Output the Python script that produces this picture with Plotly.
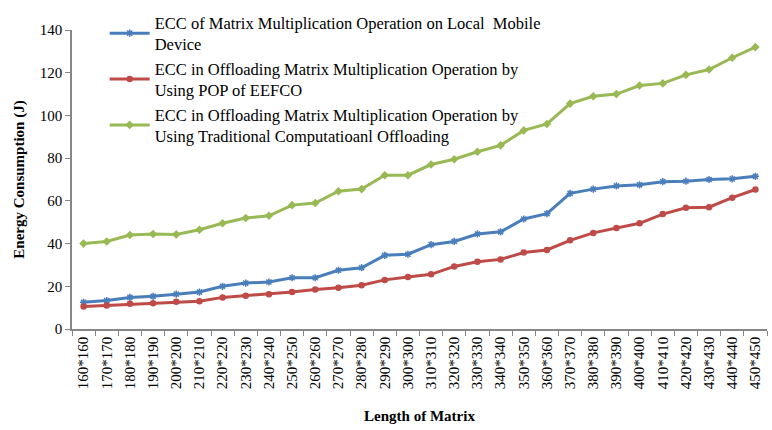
import plotly.graph_objects as go

# matrix sizes on the x axis
sizes = [f"{n}*{n}" for n in range(160, 460, 10)]

local_device = [12.5, 13.3, 14.8, 15.3, 16.3, 17.3, 20.0, 21.5, 22.0, 24.0,
                24.0, 27.5, 28.7, 34.5, 35.0, 39.5, 41.0, 44.5, 45.5, 51.5,
                54.0, 63.5, 65.5, 67.0, 67.5, 69.0, 69.2, 70.0, 70.3, 71.5]
pop_eefco = [10.5, 11.0, 11.8, 12.0, 12.8, 13.0, 14.8, 15.6, 16.3, 17.3,
             18.5, 19.3, 20.5, 23.0, 24.3, 25.6, 29.3, 31.5, 32.6, 35.8,
             37.0, 41.5, 45.0, 47.3, 49.5, 53.8, 56.8, 57.0, 61.5, 65.3]
traditional = [40.0, 41.0, 44.0, 44.5, 44.3, 46.5, 49.5, 52.0, 53.0, 58.0,
               59.0, 64.5, 65.5, 72.0, 72.0, 77.0, 79.5, 83.0, 86.0, 93.0,
               96.0, 105.5, 109.0, 110.0, 114.0, 115.0, 119.0, 121.5, 127.0, 132.0]

series = [
    ("ECC of Matrix Multiplication Operation on Local &nbsp;Mobile<br>Device",
     local_device, "#4A7EBB", "asterisk-open", 6),
    ("ECC in Offloading Matrix Multiplication Operation by<br>Using POP of EEFCO",
     pop_eefco, "#BE4B48", "circle", 5),
    ("ECC in Offloading Matrix Multiplication Operation by<br>Using Traditional Computatioanl Offloading",
     traditional, "#98B954", "diamond", 5),
]

fig = go.Figure()
for name, values, color, symbol, msize in series:
    fig.add_trace(go.Scatter(
        x=sizes,
        y=values,
        name=name,
        mode="lines+markers",
        line=dict(color=color, width=3),
        marker=dict(color=color, size=msize, symbol=symbol,
                    line=dict(color=color, width=1.5)),
    ))

font = "Liberation Serif, Times New Roman, serif"
fig.update_layout(
    width=772,
    height=430,
    margin=dict(l=72, r=5, t=14, b=101),
    paper_bgcolor="white",
    plot_bgcolor="white",
    font=dict(family=font, size=15, color="black"),
    legend=dict(
        x=0.047, y=1.083, xanchor="left", yanchor="top",
        bgcolor="rgba(0,0,0,0)",
        font=dict(family=font, size=16.5),
        tracegroupgap=0,
        itemwidth=40,
    ),
    xaxis=dict(
        type="category",
        range=[-0.5, 29.5],
        automargin=False,
        tickangle=-90,
        tickson="boundaries",
        ticks="outside",
        ticklen=5,
        tickcolor="#868686",
        showline=True,
        linecolor="#868686",
        linewidth=1.5,
        showgrid=False,
        tickfont=dict(family=font, size=15),
        title=dict(text="<b>Length of Matrix</b>",
                   font=dict(family=font, size=15), standoff=22),
    ),
    yaxis=dict(
        range=[0, 140],
        dtick=20,
        automargin=False,
        ticks="outside",
        ticklen=5,
        tickcolor="#868686",
        showline=True,
        linecolor="#868686",
        linewidth=1.5,
        showgrid=False,
        zeroline=False,
        tickfont=dict(family=font, size=15),
        title=dict(text="<b>Energy Consumption (J)</b>",
                   font=dict(family=font, size=15), standoff=12),
    ),
)

# drop the default page margin so the chart sits at the window's corner
fig.write_html("out.html", config={"displayModeBar": False},
               post_script="document.body.style.margin='0';")
